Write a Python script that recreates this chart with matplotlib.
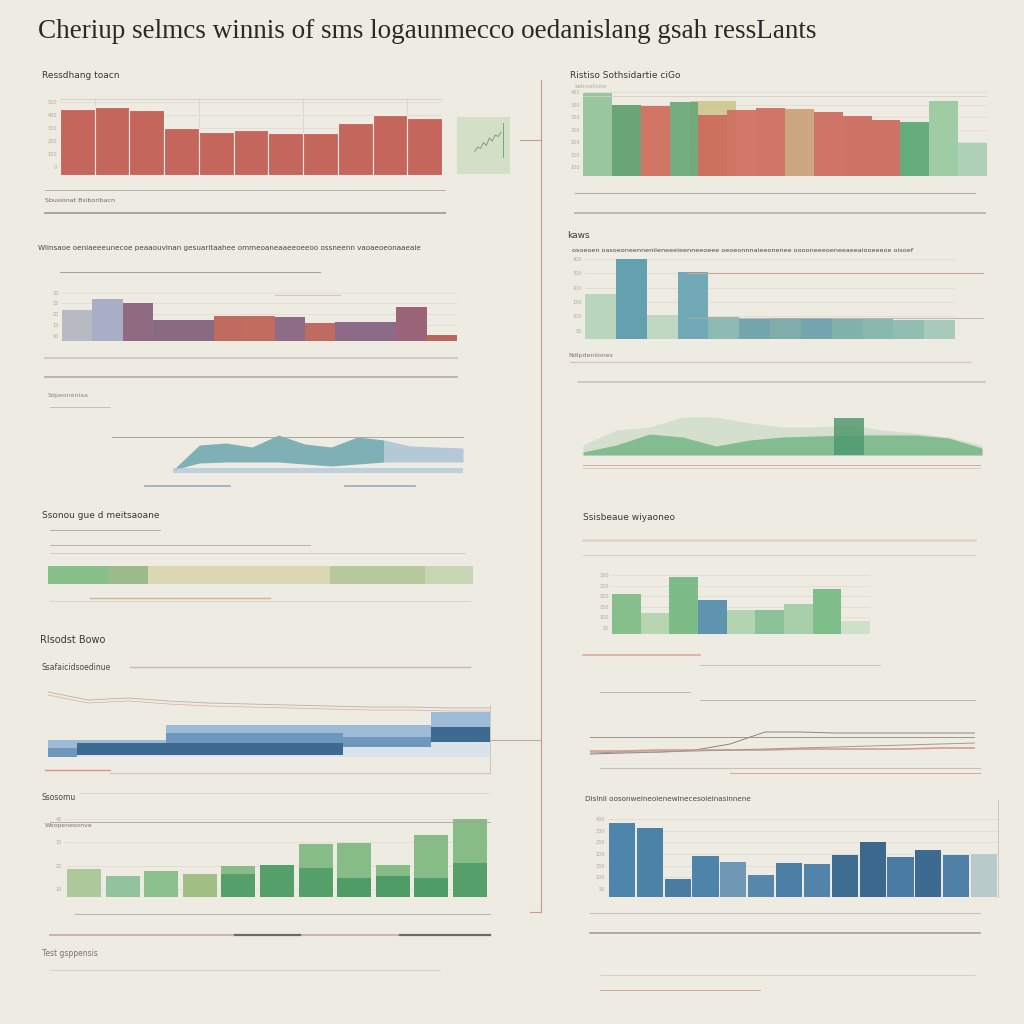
import numpy as np
import matplotlib.pyplot as plt
from matplotlib.lines import Line2D

W = H = 1024
BG = '#eeebe3'
INK = '#3a3835'
TICK = '#b0a99f'

# top left: red bars
a_vals = [66, 68, 65, 47, 43, 45, 42, 42, 52, 60, 57]
a_ticks = ['500', '400', '300', '200', '100', '0']
squiggle = [3, 6, 5, 9, 7, 12, 10, 14, 13, 16]

# top right: mixed bars
b_vals = [83, 71, 70, 74, 61, 66, 68, 67, 64, 60, 56, 54, 75, 33]
b_cols = ['#93c39a', '#5e9f6c', '#cf6b5d', '#6aa877', '#cd6a5b', '#cf6e5f', '#ce6c5e',
          '#c9a27a', '#cd6b5d', '#cc6a5c', '#cb6a5c', '#5aa874', '#98c9a0', '#a9cfb4']
b_back = [0, 0, 0, 0, 75, 0, 0, 0, 0, 0, 0, 0, 0, 0]
b_ticks = ['400', '350', '300', '250', '200', '150', '100']

# second left: purple / red bars
c_vals = [31, 42, 38, 21, 21, 25, 25, 24, 18, 19, 19, 34, 6]
c_cols = ['#b7bac2', '#a8aec6', '#8f6a80', '#8a6a83', '#8a6a83', '#c06b5f', '#c26c60',
          '#8e6b86', '#c06b5f', '#8b6b88', '#8b6b88', '#9b6479', '#b9675d']

# wave area
wave_top = [5, 30, 32, 28, 40, 31, 28, 38, 35, 29, 28, 27]
wave_bot = [5, 12, 13, 13, 13, 11, 9, 11, 13, 13, 13, 13]

# second right: teal bars
d_vals = [45, 80, 24, 67, 22, 20, 21, 21, 20, 20, 19, 19]
d_cols = ['#b7d4ba', '#5c9daf', '#bcd7c0', '#6aa7b4', '#88b8b0', '#6ea3ad',
          '#78aaa9', '#6ea3ad', '#7cb0a8', '#84b6ab', '#8cbcae', '#a4c9b8']

# green area
g_area = [3, 10, 21, 18, 9, 15, 18, 19, 20, 20, 20, 17, 7]
g_back = [10, 25, 28, 38, 38, 32, 28, 28, 30, 25, 22, 18, 10]
g_block = [0, 0, 0, 0, 0, 0, 0, 0, 37, 0, 0, 0, 0]

# horizontal stacked strip
strip_vals = [60, 40, 182, 95, 48]
strip_cols = ['#86bf8a', '#9cbb8a', '#dad7b2', '#b6c89c', '#c8d6b6']

# right green bars
e_vals = [40, 21, 57, 34, 24, 24, 30, 45, 13]
e_cols = ['#86bf8c', '#b7d5b0', '#7dbb88', '#5e94ad', '#b2d4b0', '#8cc297',
          '#a8cfaa', '#7fbd8a', '#cfe0c8']

# blue step layers
pale_h = [0, 2, 2, 2, 2, 2, 2, 2, 2, 2, 10, 10, 10, 15, 15]
dark_h = [0, 12, 12, 12, 12, 12, 12, 12, 12, 12, 0, 0, 0, 15, 15]
mid_h = [9, 0, 0, 0, 10, 10, 10, 10, 10, 10, 10, 10, 10, 0, 0]
light_h = [8, 3, 3, 3, 8, 8, 8, 8, 8, 8, 12, 12, 12, 15, 15]
trend = [65, 57, 59, 56, 54, 53, 52, 51, 50, 50, 49, 49]

# right line chart
ln_flat = [23] * 12
ln_rise = [6, 7, 8, 10, 16, 28, 28, 27, 27, 27, 27, 27]
ln_red = [9, 9, 10, 10, 10, 10, 11, 11, 11, 11, 12, 12]
ln_slow = [7, 8, 8, 9, 10, 11, 12, 13, 14, 15, 16, 17]

# bottom left: green stacked bars
f_low = [28, 21, 26, 23, 23, 32, 29, 19, 21, 19, 34]
f_up = [0, 0, 0, 0, 8, 0, 24, 35, 11, 43, 44]
f_cols = ['#adc99c', '#93c39c', '#8bbf8c', '#a1bf84', '#55a06a', '#55a06a',
          '#55a06a', '#4f9c66', '#4f9c66', '#4f9c66', '#55a06a']

# bottom right: blue bars
g_vals = [74, 69, 18, 41, 35, 22, 34, 33, 42, 55, 40, 47, 42, 43]
g_cols = ['#4e86ab', '#4d82a7', '#4a7ba0', '#4e84aa', '#6e98b5', '#5787aa', '#4b7ea4',
          '#5283a8', '#3f6c92', '#3c6890', '#4a7ba2', '#3d6a90', '#4f81a8', '#b9cacb']
g_ticks = ['400', '300', '250', '200', '150', '100', '50']

fig = plt.figure(figsize=(10.24, 10.24), dpi=100, facecolor=BG)


def px_axes(x0, y0, x1, y1, ymax=None):
    ax = fig.add_axes([x0 / W, 1 - y1 / H, (x1 - x0) / W, (y1 - y0) / H])
    ax.set_facecolor('none')
    for s in ax.spines.values():
        s.set_visible(False)
    ax.set_xticks([])
    ax.set_yticks([])
    if ymax is not None:
        ax.set_ylim(0, ymax)
    return ax


def rule(x0, x1, y, color, lw=0.7, alpha=1.0):
    fig.add_artist(Line2D([x0 / W, x1 / W], [1 - y / H, 1 - y / H],
                          transform=fig.transFigure, color=color, lw=lw, alpha=alpha))


def vrule(x, y0, y1, color, lw=0.7, alpha=1.0):
    fig.add_artist(Line2D([x / W, x / W], [1 - y0 / H, 1 - y1 / H],
                          transform=fig.transFigure, color=color, lw=lw, alpha=alpha))


def label(x, y, s, size=6.5, color=INK, alpha=1.0, **kw):
    fig.text(x / W, 1 - y / H, s, fontsize=size, color=color, alpha=alpha,
             va='center', ha='left', **kw)


def fuzzy_ticks(ax, labels, ymax):
    pos = np.linspace(ymax * 0.95, ymax * 0.1, len(labels))
    ax.set_yticks(pos)
    ax.set_yticklabels(labels, fontsize=3.6, color=TICK)
    ax.tick_params(axis='y', length=0, pad=2)
    for p in pos:
        ax.axhline(p, color='#ddd8cf', lw=0.5, zorder=0)


# title
label(38, 32, 'Cheriup selmcs winnis of sms logaunmecco oedanislang gsah ressLants',
      size=19.5, color='#2b2a28', family='Liberation Serif')

# ---- top left
label(42, 76, 'Ressdhang toacn', 6.5)
ax = px_axes(60, 98, 442, 175, 77)
x = np.arange(len(a_vals))
ax.bar(x, a_vals, width=1.0, color='#c5665d', edgecolor=BG, linewidth=0.8)
ax.set_xlim(-0.5, len(a_vals) - 0.5)
fuzzy_ticks(ax, a_ticks, 77)
ax.axhline(76, color='#d4cec4', lw=0.6)
for xi in x[::3]:
    ax.axvline(xi + 0.5, color='#d8d2c8', lw=0.5, zorder=0)

ax = px_axes(457, 117, 510, 174)
ax.set_facecolor('#d3e0c7')
ax.plot(np.arange(len(squiggle)), squiggle, color='#6f9a6a', lw=0.6)
ax.axvline(len(squiggle) - 0.5, ymin=0.3, ymax=0.9, color='#6f9a6a', lw=0.6)
ax.set_xlim(-6, len(squiggle) + 2)
ax.set_ylim(-12, 26)

rule(45, 445, 190, '#b0aaa0', 0.6)
label(45, 200, 'Sbusionat Bsiboribacn', 4.5, '#6f6a64')
rule(45, 445, 213, '#7a7570', 1.4, 0.6)

# ---- top right
label(570, 76, 'Ristiso Sothsidartie ciGo', 6.5)
label(575, 86, 'wetnnatinine', 3.5, TICK)
ax = px_axes(583, 88, 987, 176, 88)
x = np.arange(len(b_vals))
ax.bar(x, b_back, width=1.6, color='#c9c283', alpha=0.8, linewidth=0)
ax.bar(x, b_vals, width=1.0, color=b_cols, edgecolor='none', alpha=0.92)
ax.set_xlim(-0.5, len(b_vals) - 0.5)
fuzzy_ticks(ax, b_ticks, 88)
ax.axhline(80, color='#d4cec4', lw=0.6)

rule(575, 975, 193, '#b7b0a6', 0.8)
rule(575, 985, 213, '#a9a49c', 1.4, 0.7)

# ---- second left
label(38, 248, 'Wiinsaoe oeniaeeeunecoe peaaouvinan gesuaritaahee ommeoaneaaeeoeeoo '
      'ossneenn vaoaeoeonaaeaie', 5.2, '#4a4744')
rule(60, 320, 272, '#9a928a', 0.6)
rule(275, 340, 295, '#c9c2b8', 0.6)
ax = px_axes(62, 290, 457, 341, 51)
x = np.arange(len(c_vals))
ax.bar(x, c_vals, width=1.0, color=c_cols, edgecolor='none')
ax.set_xlim(-0.5, len(c_vals) - 0.5)
fuzzy_ticks(ax, ['30', '25', '20', '15', '10'], 51)

rule(45, 457, 358, '#b5aca0', 1.6, 0.5)
rule(45, 457, 377, '#8a7f78', 1.2, 0.6)
label(48, 395, 'Sdpeoneniaa', 4.5, '#8a847c')
rule(50, 110, 407, '#c0b8b0', 0.6)

rule(112, 463, 437, '#a8a49c', 0.7)
ax = px_axes(173, 425, 463, 475, 50)
x = np.arange(len(wave_top))
ax.fill_between(x[:9], wave_bot[:9], wave_top[:9], color='#6aa6ad', alpha=0.85, lw=0)
ax.fill_between(x[8:], wave_bot[8:], wave_top[8:], color='#a9c3d6', alpha=0.85, lw=0)
ax.fill_between(x, 2, 7, color='#b4c8dc', alpha=0.8, lw=0)
ax.set_xlim(0, len(wave_top) - 1)
rule(145, 230, 486, '#9aaabb', 1.2)
rule(345, 415, 486, '#9aaabb', 1.2)

# ---- second right
label(567, 236, 'kaws', 6.5)
label(572, 250, 'osoeoen oasoeoneenneniieneeeieenneeoeee oeoeonnnaieeonenee '
      'ooooneeeoeneeaeeaiooeeeoe oisoef', 4.6, '#4a4744')
rule(687, 983, 273, '#c9a59b', 0.8)
rule(687, 983, 318, '#b5aba2', 0.6)
ax = px_axes(585, 255, 955, 339, 84)
x = np.arange(len(d_vals))
ax.bar(x, d_vals, width=1.0, color=d_cols, edgecolor='none', alpha=0.95)
ax.set_xlim(-0.5, len(d_vals) - 0.5)
fuzzy_ticks(ax, ['400', '300', '200', '150', '100', '50'], 84)

label(568, 355, 'Ndlpdeniiones', 4.5, '#7a746c')
rule(570, 970, 362, '#ccc3b8', 0.8)
rule(578, 985, 382, '#c9c4b8', 1.2)

ax = px_axes(583, 395, 982, 455, 60)
x = np.arange(len(g_area))
ax.fill_between(x, 0, g_back, color='#cfdcc8', alpha=0.8, lw=0)
ax.fill_between(x, 0, g_area, color='#79b98a', alpha=0.9, lw=0)
ax.bar(x, g_block, width=0.9, color='#4f9a70', alpha=0.85)
ax.set_xlim(0, len(g_area) - 1)
rule(583, 980, 465, '#d9a79e', 0.7)
rule(583, 980, 468, '#cfc8bc', 0.6)

# ---- third left
label(42, 515, 'Ssonou gue d meitsaoane', 6.5)
rule(50, 160, 530, '#aaa39a', 0.6)
rule(50, 310, 545, '#b0a89e', 0.6)
rule(50, 465, 553, '#d0c8bc', 0.6)
ax = px_axes(48, 566, 473, 584)
left = np.concatenate([[0], np.cumsum(strip_vals)[:-1]])
ax.barh(0, strip_vals, left=left, height=1.0, color=strip_cols, edgecolor='none')
ax.set_xlim(0, sum(strip_vals))
ax.set_ylim(-0.5, 0.5)
rule(90, 270, 598, '#c0b6a6', 1.0)
rule(50, 470, 601, '#d6cfc4', 0.6)

# ---- third right
label(583, 518, 'Ssisbeaue wiyaoneo', 6.5)
rule(583, 975, 540, '#d7b0a6', 1.8, 0.45)
rule(583, 975, 555, '#cfc8bc', 0.6)
ax = px_axes(612, 572, 870, 634, 62)
x = np.arange(len(e_vals))
ax.bar(x, e_vals, width=1.0, color=e_cols, edgecolor='none')
ax.set_xlim(-0.5, len(e_vals) - 0.5)
fuzzy_ticks(ax, ['300', '250', '200', '150', '100', '50'], 62)
rule(583, 700, 655, '#dc9a90', 1.2, 0.8)
rule(700, 880, 665, '#c4bcb2', 0.6)
rule(600, 690, 692, '#b3aca2', 0.6)
rule(700, 975, 700, '#b3aca2', 0.6)

ax = px_axes(590, 720, 975, 760, 40)
x = np.arange(len(ln_flat))
ax.plot(x, ln_flat, color='#9d968e', lw=0.7)
ax.plot(x, ln_rise, color='#8c857e', lw=0.7)
ax.plot(x, ln_red, color='#d79a8e', lw=1.2)
ax.plot(x, ln_slow, color='#a09a92', lw=0.7)
ax.set_xlim(0, len(ln_flat) - 1)
rule(600, 980, 768, '#c8c0b4', 0.8)
rule(730, 980, 773, '#e1a89e', 0.8)

# ---- fourth left
label(40, 640, 'Rlsodst Bowo', 7)
label(42, 667, 'Ssafaicidsoedinue', 5.5, '#4a4744')
rule(130, 470, 667, '#c4bcb0', 1.0)
ax = px_axes(48, 680, 490, 757, 77)
x = np.arange(len(pale_h))
base = np.zeros(len(pale_h))
for h, c in [(pale_h, '#dbe3ea'), (dark_h, '#3e6990'), (mid_h, '#6e97bd'), (light_h, '#9dbad6')]:
    ax.bar(x, h, bottom=base, width=1.0, color=c, edgecolor='none')
    base = base + np.array(h)
ax.set_xlim(-0.5, len(pale_h) - 0.5)
xt = np.linspace(-0.5, len(pale_h) - 0.5, len(trend))
ax.plot(xt, trend, color='#b9b2a8', lw=0.6)
ax.plot(xt, np.array(trend) - 3, color='#dcaaa0', lw=0.5)
vrule(490, 705, 772, '#c8c0b8', 0.6)
rule(45, 110, 770, '#d9958a', 1.0)
rule(110, 490, 773, '#cfc6ba', 0.8)

# ---- fifth left
label(42, 797, 'Ssosomu', 5.5, '#4a4744')
rule(80, 490, 793, '#dcd5cb', 0.6)
label(45, 826, 'Wsopenesonve', 4.5, '#7a746c')
rule(50, 490, 822, '#a8a39b', 0.6)
ax = px_axes(65, 815, 489, 897, 82)
x = np.arange(len(f_low))
ax.bar(x, f_low, width=0.88, color=f_cols, edgecolor='none')
ax.bar(x, f_up, bottom=f_low, width=0.88, color='#88bc86', edgecolor='none')
ax.set_xlim(-0.5, len(f_low) - 0.5)
fuzzy_ticks(ax, ['40', '30', '20', '10'], 82)
rule(75, 490, 914, '#bdb6ac', 0.8)
rule(50, 490, 935, '#b8b0a6', 1.2)
rule(235, 300, 935, '#6e6862', 1.6)
rule(400, 490, 935, '#6e6862', 1.6)
label(42, 954, 'Test gsppensis', 5.5, '#7a746c')
rule(50, 440, 970, '#d4ccc2', 0.6)

# ---- fifth right
label(585, 799, 'Dislnil oosonweineoienewinecesoieinasinnene', 5.2, '#4a4744')
ax = px_axes(608, 815, 998, 897, 82)
x = np.arange(len(g_vals))
ax.bar(x, g_vals, width=0.94, color=g_cols, edgecolor='none')
ax.set_xlim(-0.5, len(g_vals) - 0.5)
fuzzy_ticks(ax, g_ticks, 82)
vrule(998, 800, 897, '#c8c0b8', 0.6)
rule(590, 980, 913, '#c9bfb4', 0.8)
rule(590, 980, 933, '#a59f98', 1.2)
rule(600, 975, 975, '#d2cbc1', 0.6)
rule(600, 760, 990, '#dca49a', 0.7)

# frame connectors
vrule(541, 80, 912, '#c99a8c', 0.8)
rule(520, 541, 140, '#c99a8c', 0.8)
rule(490, 541, 740, '#b8aea4', 0.8)
rule(530, 541, 912, '#c99a8c', 0.8)

fig.savefig('out.png', dpi=100, facecolor=BG)
